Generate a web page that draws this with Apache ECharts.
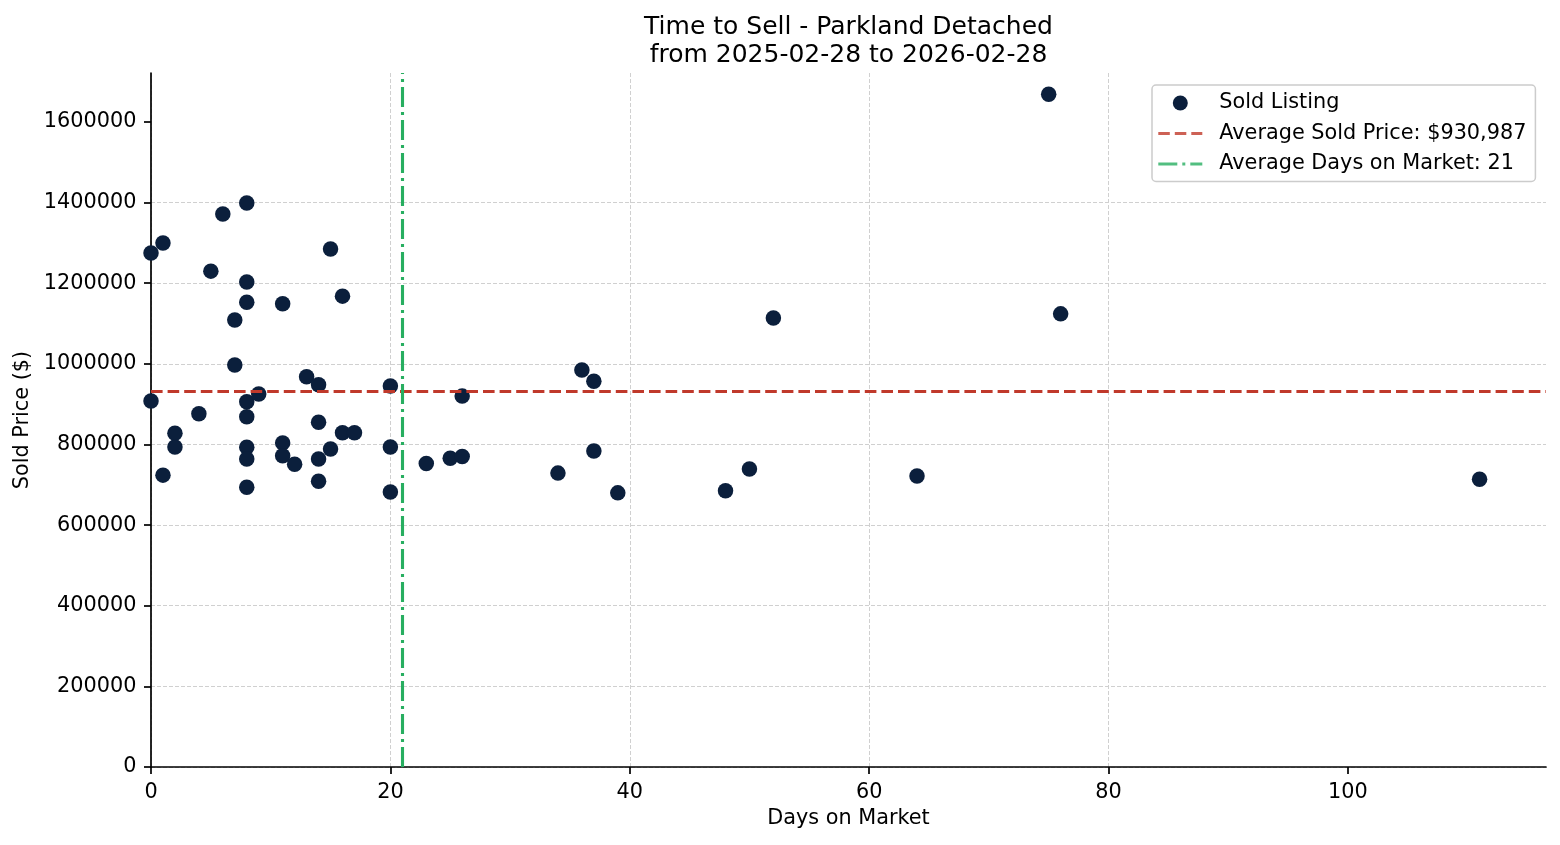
<!DOCTYPE html>
<html>
<head>
<meta charset="utf-8">
<script src="https://cdn.jsdelivr.net/npm/echarts@6/dist/echarts.min.js"></script>
<style>
html,body{margin:0;padding:0;background:#fff;}
#chart{width:1560px;height:845px;}
</style>
</head>
<body>
<div id="chart"></div>
<script>
// ---- data ----
const titleLines = ['Time to Sell - Parkland Detached', 'from 2025-02-28 to 2026-02-28'];
const xAxisName = 'Days on Market';
const yAxisName = 'Sold Price ($)';
const days = [0,1,0,1,2,2,4,5,6,7,7,8,8,8,8,8,8,8,8,9,11,11,11,12,13,14,14,14,14,15,15,16,16,17,20,20,20,23,25,26,26,34,36,37,37,39,48,50,52,64,75,76,111];
const prices = [1275000,1300000,908000,724000,828000,794000,876000,1230000,1372000,1109000,997000,1399000,1203000,1153000,906000,869000,793000,764000,694000,925000,1149000,804000,772000,751000,968000,948000,855000,764000,709000,1285000,789000,1168000,829000,829000,945000,794000,682000,753000,766000,770000,920000,729000,985000,957000,784000,680000,685000,739000,1114000,722000,1669000,1124000,714000];
const avgPrice = 930987;
const avgDays = 21;
const xTicks = [0,20,40,60,80,100];
const yTicks = [0,200000,400000,600000,800000,1000000,1200000,1400000,1600000];
const xMax = 116.55;
const yMax = 1721500;
const seriesNames = ['Sold Listing', 'Average Sold Price: $930,987', 'Average Days on Market: 21'];

const points = days.map((d, i) => [d, prices[i]]);

const FONT = 'DejaVu Sans';
const navy = '#0b1f3c';
const red = '#c0392b';
const green = '#27ae60';

const corners = 'M0,0h0.001v0.001h-0.001z M44,15h-0.001v-0.001h0.001z ';
const dashIcon = 'path://' + corners + 'M0,6h11.5v3h-11.5z M16.5,6h11.5v3h-11.5z M33,6h11v3h-11z';
const dashDotIcon = 'path://' + corners + 'M0,6h19v3h-19z M24,6h3v3h-3z M32,6h12v3h-12z';

const axisCommon = {
  axisLine: {show: true, lineStyle: {color: '#000', width: 1.7}},
  axisTick: {show: true, inside: false, length: 7, lineStyle: {color: '#000', width: 1.7}},
  splitLine: {show: true, showMaxLine: false, lineStyle: {color: '#d0d0d0', width: 1, type: [4, 2]}},
  nameTextStyle: {fontFamily: FONT, fontSize: 20.8, color: '#000'},
};

const chart = echarts.init(document.getElementById('chart'), null, {renderer: 'canvas'});
chart.setOption({
  animation: false,
  backgroundColor: '#fff',
  title: {
    text: titleLines.join('\n'),
    left: 848.5,
    top: 13,
    padding: 0,
    textAlign: 'center',
    textStyle: {fontFamily: FONT, fontSize: 25, fontWeight: 'normal', color: '#000', lineHeight: 28}
  },
  grid: {left: 151, right: 14, top: 73, bottom: 78, containLabel: false},
  legend: {
    orient: 'vertical',
    left: 1152,
    top: 85,
    padding: [7.5, 9, 7, 6.3],
    itemGap: 9.5,
    itemWidth: 44,
    itemHeight: 15,
    selectedMode: false,
    backgroundColor: 'rgba(255,255,255,0.8)',
    borderColor: '#cccccc',
    borderWidth: 1.5,
    borderRadius: 4,
    textStyle: {fontFamily: FONT, fontSize: 20.8, color: '#000', lineHeight: 21, padding: [0, 0, 0, 12]},
    data: [
      {name: seriesNames[0], icon: 'circle'},
      {name: seriesNames[1], icon: dashIcon},
      {name: seriesNames[2], icon: dashDotIcon}
    ]
  },
  xAxis: Object.assign({}, axisCommon, {
    type: 'value',
    min: 0,
    max: xMax,
    interval: 20,
    name: xAxisName,
    nameLocation: 'middle',
    nameGap: 41.4,
    axisTick: Object.assign({}, axisCommon.axisTick, {customValues: xTicks}),
    axisLabel: {customValues: xTicks, margin: 14.7, fontFamily: FONT, fontSize: 20.8, color: '#000', formatter: v => String(v)}
  }),
  yAxis: Object.assign({}, axisCommon, {
    type: 'value',
    min: 0,
    max: yMax,
    interval: 200000,
    name: yAxisName,
    nameLocation: 'middle',
    nameGap: 116,
    nameRotate: 90,
    axisTick: Object.assign({}, axisCommon.axisTick, {customValues: yTicks}),
    axisLabel: {customValues: yTicks, margin: 14.6, padding: [4, 0, 0, 0], fontFamily: FONT, fontSize: 20.8, color: '#000', formatter: v => String(v)}
  }),
  series: [
    {
      name: seriesNames[0],
      type: 'scatter',
      data: points,
      symbol: 'circle',
      symbolSize: 15.5,
      itemStyle: {color: navy, opacity: 1},
      silent: true,
      z: 2
    },
    {
      name: seriesNames[1],
      type: 'scatter',
      data: [],
      itemStyle: {color: red},
      z: 3,
      markLine: {
        silent: true,
        symbol: 'none',
        label: {show: false},
        lineStyle: {color: red, width: 3.1, type: [11.6, 5], opacity: 1},
        emphasis: {disabled: true},
        data: [{yAxis: avgPrice}]
      }
    },
    {
      name: seriesNames[2],
      type: 'scatter',
      data: [],
      itemStyle: {color: green},
      z: 3,
      markLine: {
        silent: true,
        symbol: 'none',
        label: {show: false},
        lineStyle: {color: green, width: 3.1, type: [20, 5, 3, 5], opacity: 1},
        emphasis: {disabled: true},
        data: [{xAxis: avgDays}]
      }
    }
  ]
});
</script>
</body>
</html>
